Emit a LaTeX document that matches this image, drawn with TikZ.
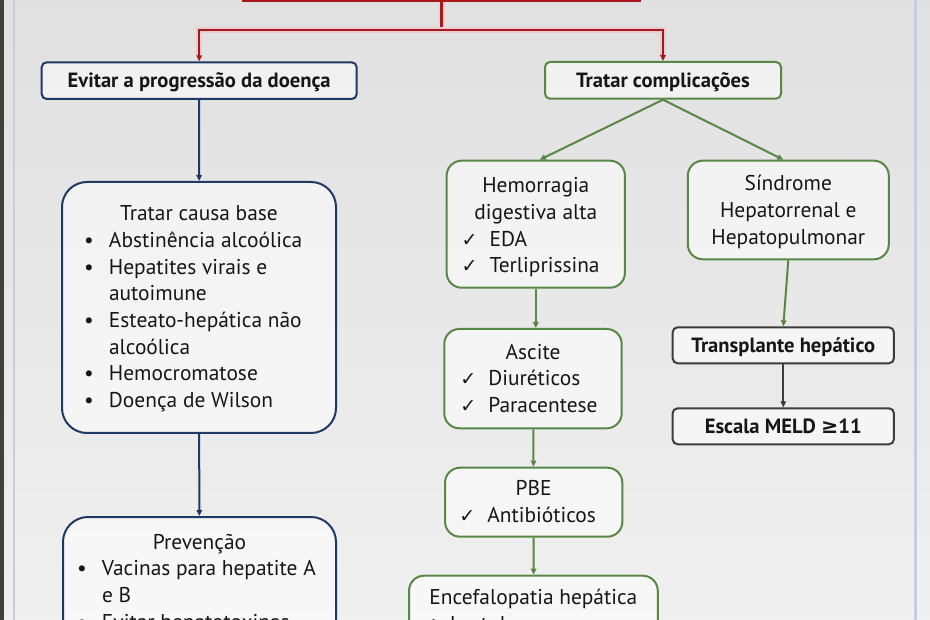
\documentclass[tikz,border=0pt]{standalone}
\usepackage{fontspec}
\setmainfont{PT Sans}
\newfontfamily\simbolo{DejaVu Sans}
\usetikzlibrary{arrows.meta}
\definecolor{azul}{RGB}{31,56,100}
\definecolor{verde}{RGB}{88,135,70}
\definecolor{vermelho}{RGB}{165,25,30}
\definecolor{cinza}{RGB}{60,60,60}
\definecolor{texto}{RGB}{22,22,22}
\definecolor{borda}{RGB}{196,206,224}
\newcommand{\titulo}[1]{\makebox[\linewidth][c]{#1}}
\newcommand{\bala}[1]{\makebox[\linewidth][l]{\makebox[25pt][l]{•}#1}}
\newcommand{\segue}[1]{\makebox[\linewidth][l]{\hspace*{25pt}#1}}
\newcommand{\marca}[1]{\makebox[\linewidth][l]{\makebox[28pt][l]{\fontsize{19pt}{19pt}\simbolo ✓}#1}}
\tikzset{
  caixa/.style={draw, line width=2pt, fill=white, fill opacity=.55, text opacity=1, text=texto, anchor=base, inner ysep=0pt, font=\fontsize{21.4pt}{26.7pt}\selectfont},
  cabeca/.style={caixa, rounded corners=5pt, inner xsep=0pt, font=\fontsize{20.6pt}{22pt}\selectfont\bfseries},
  seta/.style={-{Triangle[length=6pt,width=5.5pt]}, line width=2pt},
  fioazul/.style={seta, draw=azul},
  fioverde/.style={seta, draw=verde},
  fiocinza/.style={seta, draw=cinza},
  fiovermelho/.style={draw=vermelho, line width=2.2pt, preaction={draw=vermelho!22, line width=6pt}}
}
\begin{document}
\begin{tikzpicture}[x=1pt, y=-1pt]
  \useasboundingbox (0,0) rectangle (930,620);
  \clip (0,0) rectangle (930,620);
  \shade[top color=black!12, middle color=black!4, bottom color=black!6] (0,0) rectangle (930,620);
  \fill[black!75] (0,0) rectangle (4,620);
  \draw[borda, line width=1.5pt] (14,0) -- (14,620);
  \draw[borda, line width=3pt] (915,0) -- (915,620);

  \node[draw=vermelho, line width=2.2pt, fill=vermelho!8, minimum width=397pt, minimum height=50pt] (raiz) at (441.5,-24) {};
  \coordinate (ramo) at (441.5,30);

  \node[cabeca, draw=azul, minimum width=315pt, text height=25pt, text depth=11.7pt] (evitar) at (199.2,87.3) {Evitar a progressão da doença};
  \node[cabeca, draw=verde, minimum width=236pt, text height=25.3pt, text depth=11.4pt] (tratar) at (663,87.3) {Tratar complicações};

  \node[caixa, draw=azul, rounded corners=25pt, inner xsep=22pt, text height=38.7pt, text depth=212.3pt] (causa) at (199,220.7)
    {\parbox[t]{230pt}{\titulo{Tratar causa base}\\
      \bala{Abstinência alcoólica}\\
      \bala{Hepatites virais e}\\
      \segue{autoimune}\\
      \bala{Esteato-hepática não}\\
      \segue{alcoólica}\\
      \bala{Hemocromatose}\\
      \bala{Doença de Wilson}}};
  \node[caixa, draw=azul, rounded corners=25pt, inner xsep=14pt, text height=32pt, text depth=200pt] (prevencao) at (199.5,549)
    {\parbox[t]{245pt}{\titulo{Prevenção}\\
      \bala{Vacinas para hepatite A}\\
      \segue{e B}\\
      \bala{Evitar hepatotoxinas}}};

  \node[caixa, draw=verde, rounded corners=15pt, inner xsep=15pt, text height=32pt, text depth=95pt] (hemorragia) at (535.8,192.7)
    {\parbox[t]{148.3pt}{\titulo{Hemorragia}\\
      \titulo{digestiva alta}\\
      \marca{EDA}\\
      \marca{Terliprissina}}};
  \node[caixa, draw=verde, rounded corners=15pt, inner xsep=10pt, text height=30.3pt, text depth=68.3pt] (sindrome) at (788.3,191)
    {\parbox[t]{181pt}{\titulo{Síndrome}\\
      \titulo{Hepatorrenal e}\\
      \titulo{Hepatopulmonar}}};
  \node[caixa, draw=verde, rounded corners=15pt, inner xsep=16pt, text height=30.3pt, text depth=69pt] (ascite) at (533,359.3)
    {\parbox[t]{145.4pt}{\titulo{Ascite}\\
      \marca{Diuréticos}\\
      \marca{Paracentese}}};
  \node[caixa, draw=verde, rounded corners=15pt, inner xsep=14.3pt, text height=28.3pt, text depth=40.7pt] (pbe) at (533.7,496)
    {\parbox[t]{148.7pt}{\titulo{PBE}\\
      \marca{Antibióticos}}};
  \node[caixa, draw=verde, rounded corners=15pt, inner xsep=13pt, text height=28.6pt, text depth=150pt] (encefalopatia) at (533.4,604.3)
    {\parbox[t]{222.7pt}{\titulo{Encefalopatia hepática}\\
      \marca{Lactulose}}};

  \node[cabeca, draw=cinza, minimum width=221.3pt, text height=25.4pt, text depth=10.6pt] (transplante) at (783.3,352.7) {Transplante hepático};
  \node[cabeca, draw=cinza, minimum width=221.3pt, text height=25.7pt, text depth=10.3pt] (meld) at (783.3,434) {Escala MELD {\simbolo\bfseries ≥}11};

  \draw[fiovermelho] (raiz.south) -- (ramo);
  \draw[fiovermelho, seta] (ramo) -| (evitar.north);
  \draw[fiovermelho, seta] (ramo) -| (tratar.north);

  \draw[fioazul] (evitar) -- (causa);
  \draw[fioazul] (causa) -- (prevencao);

  \draw[fioverde] (tratar.south) -- ([xshift=4pt]hemorragia.north);
  \draw[fioverde] (tratar.south) -- ([xshift=-5pt]sindrome.north);
  \draw[fioverde] (hemorragia.south) -- (hemorragia.south |- ascite.north);
  \draw[fioverde] (ascite) -- (pbe);
  \draw[fioverde] (pbe) -- (encefalopatia);
  \draw[fioverde] (sindrome.south) -- (transplante.north);
  \draw[fiocinza] (transplante) -- (meld);
\end{tikzpicture}
\end{document}
